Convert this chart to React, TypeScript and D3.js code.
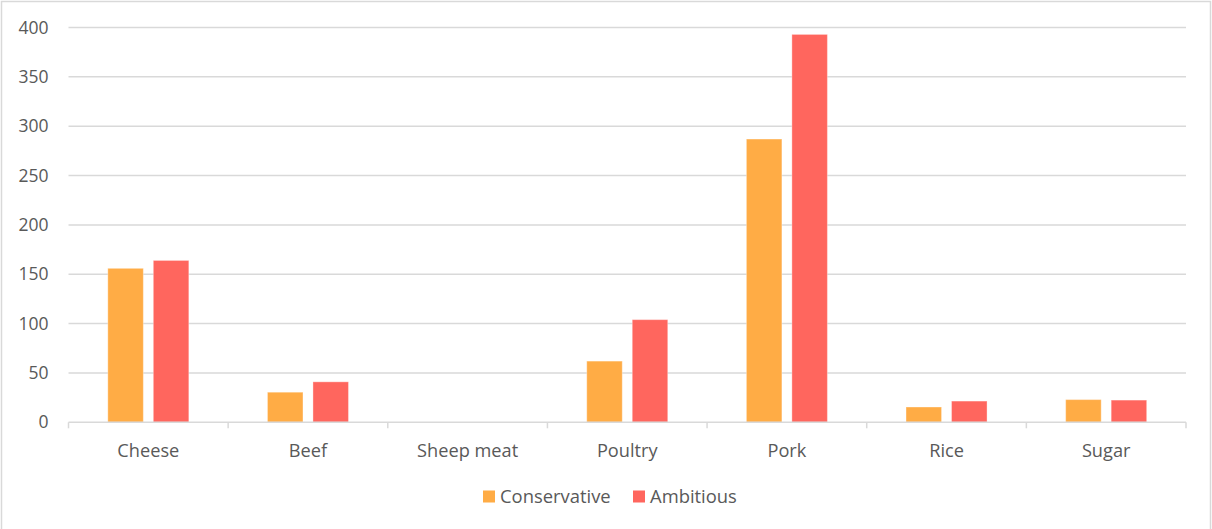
import React from "react";
import * as d3 from "d3";

const categories = ["Cheese", "Beef", "Sheep meat", "Poultry", "Pork", "Rice", "Sugar"];
const seriesNames = ["Conservative", "Ambitious"];
const conservative = [156, 30.5, 0, 62, 287, 15.5, 23];
const ambitious = [164, 41, 0, 104, 393, 21.5, 22.5];
const yTicks = [0, 50, 100, 150, 200, 250, 300, 350, 400];
const colors = ["#FFAC45", "#FF665E"];

const W = 1212;
const H = 529;
const left = 68.5;
const right = 1186;
const top = 27.5;
const bottom = 422.3;
const FONT = "'Open Sans', sans-serif";
const TXT = "#595959";

export default function App() {
  const x0 = d3.scaleBand<string>().domain(categories).range([left, right]).paddingInner(0).paddingOuter(0);
  const bw = x0.bandwidth();
  const barW = bw * 0.2225;
  const gap = bw * 0.0625;
  const y = d3.scaleLinear().domain([0, 400]).range([bottom, top]);
  const series = [conservative, ambitious];

  return (
    <svg width={W} height={H} style={{ position: "absolute", left: 0, top: 0, display: "block" }}>
      <rect x={0} y={0} width={W} height={H} fill="#fff" />
      <rect x={1.5} y={1.5} width={W - 3} height={H + 10} fill="none" stroke="#D9D9D9" strokeWidth={1.5} />
      {yTicks.map((t) => (
        <g key={t}>
          {t > 0 && <line x1={left} x2={right} y1={y(t)} y2={y(t)} stroke="#D9D9D9" strokeWidth={1.5} />}
          <text x={48.5} y={y(t)} dy="0.35em" textAnchor="end" fontFamily={FONT} fontSize={17.5} fill={TXT}>
            {t}
          </text>
        </g>
      ))}
      {categories.map((c, i) => {
        const cx = (x0(c) as number) + bw / 2;
        return (
          <g key={c}>
            {series.map((s, k) => {
              const bx = k === 0 ? cx - gap / 2 - barW : cx + gap / 2;
              const v = s[i];
              if (v <= 0) return null;
              return (
                <rect
                  key={k}
                  x={bx}
                  y={y(v)}
                  width={barW}
                  height={y(0) - y(v)}
                  fill={colors[k]}
                  stroke="#ffffff"
                  strokeOpacity={0.35}
                  strokeWidth={1}
                />
              );
            })}
            <text x={cx} y={456.5} textAnchor="middle" fontFamily={FONT} fontSize={18.2} fill={TXT}>
              {c}
            </text>
          </g>
        );
      })}
      <line x1={left} x2={right} y1={bottom} y2={bottom} stroke="#D9D9D9" strokeWidth={1.5} />
      {d3.range(categories.length + 1).map((i) => {
        const tx = left + i * bw;
        return <line key={i} x1={tx} x2={tx} y1={bottom} y2={bottom + 6} stroke="#D9D9D9" strokeWidth={1.5} />;
      })}
      {seriesNames.map((n, k) => {
        const lx = k === 0 ? 483 : 633;
        return (
          <g key={n}>
            <rect x={lx} y={490.5} width={12} height={12} fill={colors[k]} />
            <text x={lx + 17} y={502.5} fontFamily={FONT} fontSize={18.4} fill={TXT}>
              {n}
            </text>
          </g>
        );
      })}
    </svg>
  );
}
